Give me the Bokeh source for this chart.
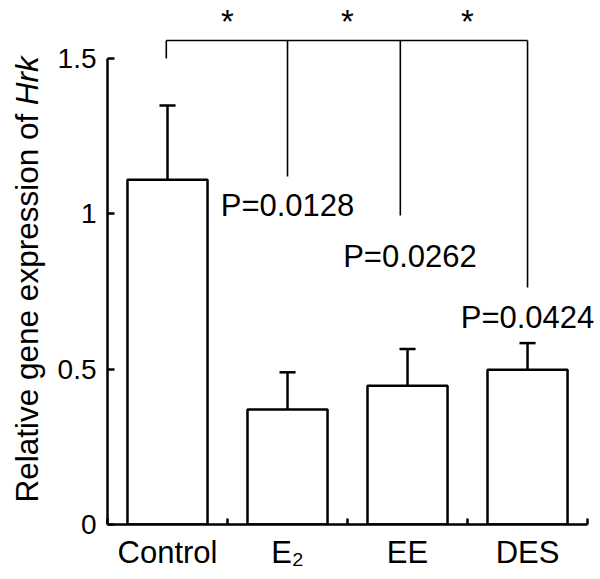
import numpy as np
from math import pi
from bokeh.plotting import figure
from bokeh.layouts import row
from bokeh.models import Range1d, FixedTicker, CustomJSTickFormatter, Label
from bokeh.embed import file_html
from bokeh.resources import INLINE

# ---- data ----
categories = ["Control", "E\u2082", "EE", "DES"]
means = [1.110, 0.370, 0.447, 0.498]
errors = [0.239, 0.120, 0.118, 0.086]
yticks = [0, 0.5, 1.0, 1.5]
ytick_labels = ["0", "0.5", "1", "1.5"]
bracket_top = 1.558
bracket_x = [0.49, 1.50, 2.44, 3.50]
bracket_bottom = [1.50, 1.12, 0.995, 0.763]
p_values = ["P=0.0128", "P=0.0262", "P=0.0424"]
p_x = [1.5, 2.52, 3.5]
p_y = [1.027, 0.863, 0.666]
star_x = [1, 2, 3]
star_y = 1.620

FONT = "Liberation Sans"

centers = np.arange(len(categories)) + 0.5
tops = np.array(means) + np.array(errors)

y_range = Range1d(0, 1.687)

p = figure(frame_width=493, frame_height=524,
           x_range=Range1d(0, len(categories) + 0.108), y_range=y_range,
           output_backend="svg", toolbar_location=None,
           min_border_left=57, min_border_right=0, min_border_top=0, min_border_bottom=55)
p.outline_line_color = None
p.xgrid.visible = False
p.ygrid.visible = False

# bars
p.vbar(x=centers, top=means, width=0.667, bottom=0, fill_color="white",
       line_color="black", line_width=2.5)
# error bars
p.segment(x0=centers, y0=means, x1=centers, y1=tops, line_color="black", line_width=2.5)
p.segment(x0=centers - 0.067, y0=tops, x1=centers + 0.067, y1=tops, line_color="black", line_width=2.5)

# bracket
p.segment(x0=[bracket_x[0]], y0=[bracket_top], x1=[bracket_x[-1]], y1=[bracket_top],
          line_color="black", line_width=1.6)
p.segment(x0=bracket_x, y0=[bracket_top] * len(bracket_x), x1=bracket_x, y1=bracket_bottom,
          line_color="black", line_width=1.6)

for sx in star_x:
    p.add_layout(Label(x=sx, y=star_y, text="*", text_align="center", text_baseline="middle",
                       text_font=FONT, text_font_size="33px", text_color="black"))
for tx, ty, tt in zip(p_x, p_y, p_values):
    p.add_layout(Label(x=tx, y=ty, text=tt, text_align="center", text_baseline="middle",
                       text_font=FONT, text_font_size="31px", text_color="black"))

# x axis
xa = p.xaxis[0]
xa.bounds = (0, len(categories))
xa.ticker = FixedTicker(ticks=list(centers), minor_ticks=list(range(len(categories) + 1)))
xa.formatter = CustomJSTickFormatter(args=dict(catlabels=categories),
                                     code="return catlabels[Math.floor(tick)];")
xa.major_tick_in = 0
xa.major_tick_out = 0
xa.minor_tick_in = 6
xa.minor_tick_out = 0
xa.minor_tick_line_width = 2.5
xa.minor_tick_line_color = "black"
xa.axis_line_width = 2.5
xa.axis_line_color = "black"
xa.major_label_text_font = FONT
xa.major_label_text_font_size = "31px"
xa.major_label_text_color = "black"
xa.major_label_standoff = 10

# y axis
ya = p.yaxis[0]
ya.ticker = FixedTicker(ticks=yticks)
ya.formatter = CustomJSTickFormatter(args=dict(ylabs=ytick_labels, yvals=yticks),
                                     code="const i = yvals.indexOf(tick); return i >= 0 ? ylabs[i] : '';")
ya.bounds = (0, 1.5)
ya.major_tick_in = 7
ya.major_tick_out = 0
ya.major_tick_line_width = 2.5
ya.minor_tick_line_color = None
ya.axis_line_width = 2.5
ya.axis_line_color = "black"
ya.major_label_text_font = FONT
ya.major_label_text_font_size = "28px"
ya.major_label_text_color = "black"
ya.major_label_standoff = 11

# narrow companion figure holding the y-axis title (shares the y scale)
t = figure(frame_width=50, frame_height=524, x_range=Range1d(0, 1), y_range=y_range,
           output_backend="svg", toolbar_location=None,
           x_axis_location=None, y_axis_location=None,
           min_border_left=0, min_border_right=0, min_border_top=0, min_border_bottom=55)
t.outline_line_color = None
t.xgrid.visible = False
t.ygrid.visible = False
t.add_layout(Label(x=26.5, x_units="screen", y=0.0708, angle=pi / 2,
                   text="Relative gene expression of", text_align="left", text_baseline="middle",
                   text_font=FONT, text_font_size="31.5px", text_color="black"))
t.add_layout(Label(x=26.5, x_units="screen", y=1.350, angle=pi / 2,
                   text="Hrk", text_font_style="italic", text_align="left", text_baseline="middle",
                   text_font=FONT, text_font_size="31.5px", text_color="black"))

layout = row(t, p, spacing=0)
open("out.html", "w").write(file_html(layout, INLINE))
